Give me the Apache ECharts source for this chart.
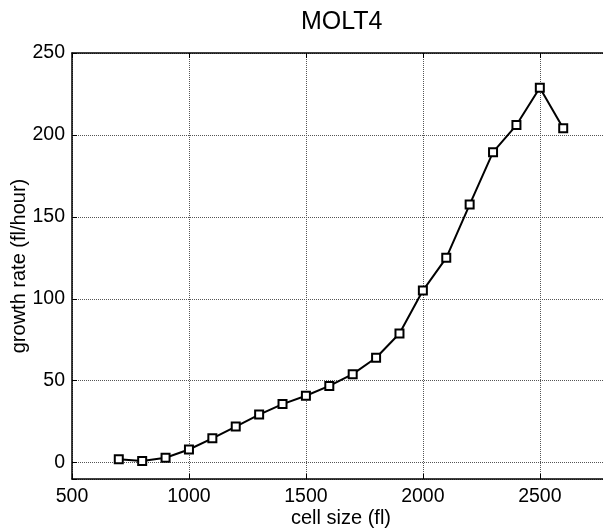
<!DOCTYPE html>
<html>
<head>
<meta charset="utf-8">
<script src="https://cdn.jsdelivr.net/npm/echarts@6/dist/echarts.min.js"></script>
<style>
html,body{margin:0;padding:0;background:#fff;}
#c{width:603px;height:529px;}
</style>
</head>
<body>
<div id="c"></div>
<script>
var titleText = 'MOLT4';
var xName = 'cell size (fl)';
var yName = 'growth rate (fl/hour)';
var cellSize = [700, 800, 900, 1000, 1100, 1200, 1300, 1400, 1500, 1600, 1700, 1800, 1900, 2000, 2100, 2200, 2300, 2400, 2500, 2600];
var growthRate = [2, 1, 3, 8, 14.8, 22, 29.3, 35.7, 40.8, 46.8, 54, 64, 78.8, 105, 125, 157.5, 189.5, 206, 228.8, 204];
var xTicks = [500, 1000, 1500, 2000, 2500];
var yTicks = [0, 50, 100, 150, 200, 250];

var font = '"Liberation Sans", Arial, Helvetica, sans-serif';
var chart = echarts.init(document.getElementById('c'), null, {renderer: 'canvas'});
var data = cellSize.map(function (x, i) { return [x, growthRate[i]]; });

function fmtX(v) { return xTicks.indexOf(v) >= 0 ? String(v) : ''; }
function fmtY(v) { return yTicks.indexOf(v) >= 0 ? String(v) : ''; }

var axisLine = {show: true, onZero: false, lineStyle: {color: '#000', width: 1.5}};
var axisTick = {show: true, inside: true, length: 5, lineStyle: {color: '#000', width: 1}};

chart.setOption({
  animation: false,
  backgroundColor: '#fff',
  title: {
    text: titleText, left: 296, top: 5,
    textStyle: {fontFamily: font, fontSize: 25, fontWeight: 'normal', color: '#000'}
  },
  grid: {left: 72, right: -7, top: 53, bottom: 50, containLabel: false, outerBoundsMode: 'none'},
  xAxis: [{
    type: 'value', min: 500, max: 2800, interval: 500, position: 'bottom',
    name: xName, nameLocation: 'middle', nameGap: 29, nameMoveOverlap: false,
    nameTextStyle: {fontFamily: font, fontSize: 20, color: '#000'},
    axisLine: axisLine, axisTick: axisTick,
    axisLabel: {fontFamily: font, fontSize: 19.5, color: '#000', margin: 8, formatter: fmtX, showMaxLabel: false},
    splitLine: {show: true, lineStyle: {color: '#555', type: 'dotted', width: 1}}
  }, {
    type: 'value', min: 500, max: 2800, interval: 500, position: 'top',
    axisLine: axisLine, axisTick: axisTick,
    axisLabel: {show: false}, splitLine: {show: false}
  }],
  yAxis: [{
    type: 'value', min: -10, max: 250, minInterval: 50, maxInterval: 50, position: 'left',
    name: yName, nameLocation: 'middle', nameGap: 43, nameRotate: 90, nameMoveOverlap: false,
    nameTextStyle: {fontFamily: font, fontSize: 20, color: '#000'},
    axisLine: axisLine, axisTick: axisTick,
    axisLabel: {fontFamily: font, fontSize: 19.5, color: '#000', margin: 7, formatter: fmtY},
    splitLine: {show: true, lineStyle: {color: '#555', type: 'dotted', width: 1}}
  }],
  series: [{
    type: 'line', data: data, xAxisIndex: 0, yAxisIndex: 0,
    symbol: 'rect', symbolSize: 8, showAllSymbol: true,
    lineStyle: {color: '#000', width: 2},
    itemStyle: {color: '#fff', borderColor: '#000', borderWidth: 2},
    z: 5
  }]
});
</script>
</body>
</html>
